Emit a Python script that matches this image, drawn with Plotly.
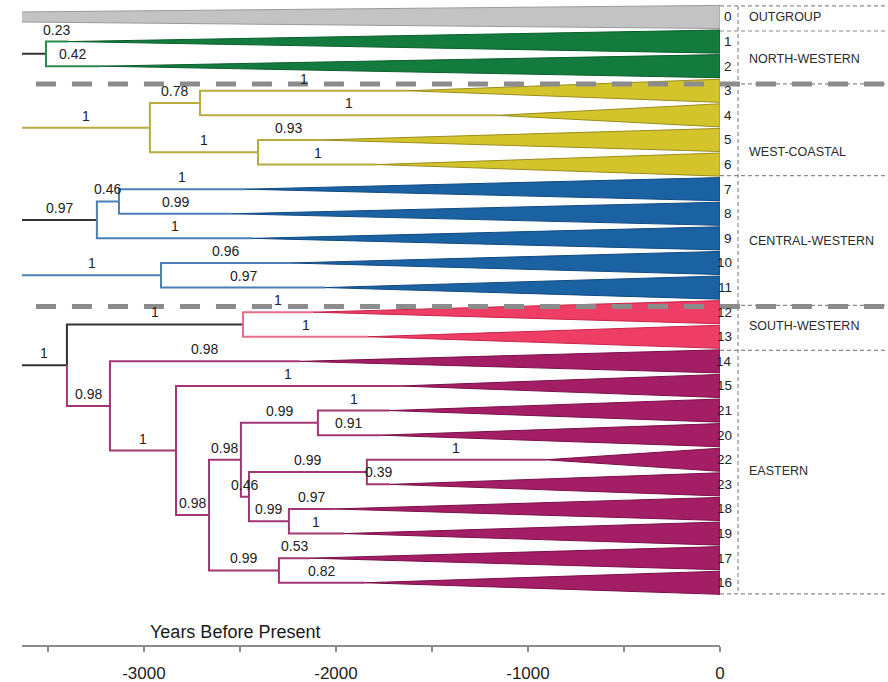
import plotly.graph_objects as go

# ---------------------------------------------------------------------------
# Dated phylogeny with collapsed lineages (ages in years before present)
# ---------------------------------------------------------------------------

# internal nodes
node_names = ["root", "NW", "WC", "WC34", "WC56", "CW", "CW78", "CW1011",
              "SWE", "SW", "E1", "E2", "E3", "E4", "E2120", "E5", "E2223", "E1819", "E1716"]
node_parents = [None, "root", "root", "WC", "WC", "root", "CW", "root",
                "root", "SWE", "SWE", "E1", "E2", "E3", "E4", "E4", "E5", "E5", "E3"]
node_ages = [-7000, -3510, -2969, -2708, -2406, -3245, -3130, -2911,
             -3401, -2484, -3177, -2833, -2661, -2495, -2094, -2453, -1839, -2245, -2297]
node_support = ["", "", "1", "0.78", "1", "0.97", "0.46", "1",
                "1", "1", "0.98", "1", "0.98", "0.98", "0.99", "0.46", "0.99", "0.99", "0.99"]
node_branch = ["stem", "stem", "WC", "WC", "WC", "stem", "CW", "CW",
               "stem", "stem", "E", "E", "E", "E", "E", "E", "E", "E", "E"]

# collapsed lineages, top to bottom
tip_labels = ["0", "1", "2", "3", "4", "5", "6", "7", "8", "9", "10", "11",
              "12", "13", "14", "15", "21", "20", "22", "23", "18", "19", "17", "16"]
tip_parents = ["root", "NW", "NW", "WC34", "WC34", "WC56", "WC56", "CW78", "CW78", "CW",
               "CW1011", "CW1011", "SW", "SW", "E1", "E2", "E2120", "E2120",
               "E2223", "E2223", "E1819", "E1819", "E1716", "E1716"]
tip_starts = [-6430, -3396, -3229, -1625, -1161, -2089, -1786, -2474, -2542, -2432,
              -2240, -2057, -2120, -1833, -2188, -1667, -1719, -1771,
              -911, -1719, -2010, -1958, -2135, -1849]
tip_support = ["", "0.23", "0.42", "1", "1", "0.93", "1", "1", "0.99", "1", "0.96", "0.97",
               "1", "1", "0.98", "1", "1", "0.91", "1", "0.39", "0.97", "1", "0.53", "0.82"]
tip_clade = ["OG", "NW", "NW", "WC", "WC", "WC", "WC", "CW", "CW", "CW", "CW", "CW",
             "SW", "SW", "E", "E", "E", "E", "E", "E", "E", "E", "E", "E"]

# clades shown in the side panel
clade_keys = ["OG", "NW", "WC", "CW", "SW", "E"]
clade_names = ["OUTGROUP", "NORTH-WESTERN", "WEST-COASTAL", "CENTRAL-WESTERN",
               "SOUTH-WESTERN", "EASTERN"]

# time axis
tick_vals = [-3500, -3000, -2500, -2000, -1500, -1000, -500, 0]
tick_text = ["", "-3000", "", "-2000", "", "-1000", "", "0"]
axis_title = "Years Before Present"

# ---------------------------------------------------------------------------
# styling
# ---------------------------------------------------------------------------
FILL = {"OG": "#c3c3c3", "NW": "#137b3d", "WC": "#d3c42c", "CW": "#1b62a3",
        "SW": "#ef3e66", "E": "#a41e65"}
EDGE = {"OG": "#9a9a9a", "NW": "#0d5e2d", "WC": "#9a8d1c", "CW": "#124a80",
        "SW": "#c52448", "E": "#7a1048"}
BRANCH = {"stem": "#333333", "NW": "#2c8a48", "WC": "#b8aa3c", "CW": "#4a80b6",
          "SW": "#e56f88", "E": "#a23675", "OG": "#9a9a9a"}
X_MIN = -3635
LABEL_FONT = "Liberation Sans Narrow, Liberation Sans, Arial, sans-serif"
SANS = "Liberation Sans, Arial, sans-serif"

# ---------------------------------------------------------------------------
# layout of the tree: tip rows, node rows as mean of children
# ---------------------------------------------------------------------------
age = dict(zip(node_names, node_ages))
children = {n: [] for n in node_names}
for n, p in zip(node_names, node_parents):
    if p is not None:
        children[p].append(("node", n))
for i, p in enumerate(tip_parents):
    children[p].append(("tip", i))

row = {}


def node_row(n):
    ys = []
    for kind, c in children[n]:
        ys.append(c if kind == "tip" else node_row(c))
    row[n] = sum(ys) / len(ys)
    return row[n]


node_row("root")

fig = go.Figure()

# wedges for the collapsed lineages
for key in clade_keys:
    xs, ys = [], []
    for i, c in enumerate(tip_clade):
        if c != key:
            continue
        half = 0.47
        xs += [tip_starts[i], 0, 0, tip_starts[i], None]
        ys += [i, i - half, i + half, i, None]
    fig.add_trace(go.Scatter(
        x=xs, y=ys, mode="lines", fill="toself", fillcolor=FILL[key],
        line=dict(color=EDGE[key], width=1), hoverinfo="skip", showlegend=False))

# branches as elbows (parent vertical + horizontal), coloured per branch
segments = {}
labels = []
for n, p, b, s in zip(node_names, node_parents, node_branch, node_support):
    if p is None:
        continue
    segments.setdefault(b, []).append((age[p], row[p], row[n], age[n]))
    if s:
        labels.append(((max(age[p], X_MIN) + age[n]) / 2, row[n], s))
for i, (p, c, s) in enumerate(zip(tip_parents, tip_clade, tip_support)):
    if c == "OG":
        continue
    segments.setdefault(c, []).append((age[p], row[p], i, tip_starts[i]))
    if s:
        labels.append(((max(age[p], X_MIN) + tip_starts[i]) / 2, i, s))

for b, segs in segments.items():
    xs, ys = [], []
    for x0, y0, y1, x1 in segs:
        xs += [x0, x0, x1, None]
        ys += [y0, y1, y1, None]
    fig.add_trace(go.Scatter(x=xs, y=ys, mode="lines",
                             line=dict(color=BRANCH[b], width=2),
                             hoverinfo="skip", showlegend=False))

# support values above branches
for x, y, s in labels:
    fig.add_annotation(x=x, y=y, text=s, showarrow=False, yshift=12,
                       font=dict(family=LABEL_FONT, size=14, color="#222"))

# tip numbers
for i, t in enumerate(tip_labels):
    fig.add_annotation(x=1.0205, xref="paper", y=i, yref="y", text=t, showarrow=False,
                       xanchor="right", font=dict(family=SANS, size=13.5, color="#222"))

# clade names in the side panel
label_rows = [0, 1.7, 5.5, 9.1, 12.55, 18.45]
for name, r in zip(clade_names, label_rows):
    fig.add_annotation(x=1.0387, xref="paper", y=r, yref="y", text=name, showarrow=False,
                       xanchor="left", font=dict(family=SANS, size=12.5, color="#2a2a2a"))

# side panel boxes
thin = dict(color="#8a8a8a", width=1.2, dash="4px,3px")
for r in [-0.45, 0.57, 2.72, 6.45, 11.72, 13.55, 23.45]:
    fig.add_shape(type="line", xref="paper", yref="y", x0=1.0, x1=1.241, y0=r, y1=r, line=thin)
fig.add_shape(type="line", xref="paper", yref="y", x0=1.0258, x1=1.0258, y0=-0.45, y1=23.45,
              line=thin)

# region separators
for r in [2.72, 11.77]:
    fig.add_shape(type="line", xref="paper", yref="y", x0=0.02, x1=1.241, y0=r, y1=r,
                  line=dict(color="#8c8c8c", width=5, dash="20px,16px"))

fig.add_annotation(x=-2525, xref="x", y=0.02, yref="paper", yanchor="middle",
                   text=axis_title, showarrow=False,
                   font=dict(family=SANS, size=18, color="#1a1a1a"))

fig.update_layout(
    width=888, height=682,
    margin=dict(l=22, r=168, t=0, b=37),
    paper_bgcolor="white", plot_bgcolor="white",
    showlegend=False,
    xaxis=dict(range=[X_MIN, 0], tickvals=tick_vals, ticktext=tick_text,
               showgrid=False, zeroline=False, showline=True, linecolor="#8c8c8c",
               linewidth=2, ticks="outside", ticklen=5, tickwidth=1.5, tickcolor="#8c8c8c",
               ticklabelstandoff=7,
               tickfont=dict(family=SANS, size=17, color="#222")),
    yaxis=dict(range=[25.53, -0.69], visible=False, showgrid=False, zeroline=False),
)

fig.write_html("out.html")
